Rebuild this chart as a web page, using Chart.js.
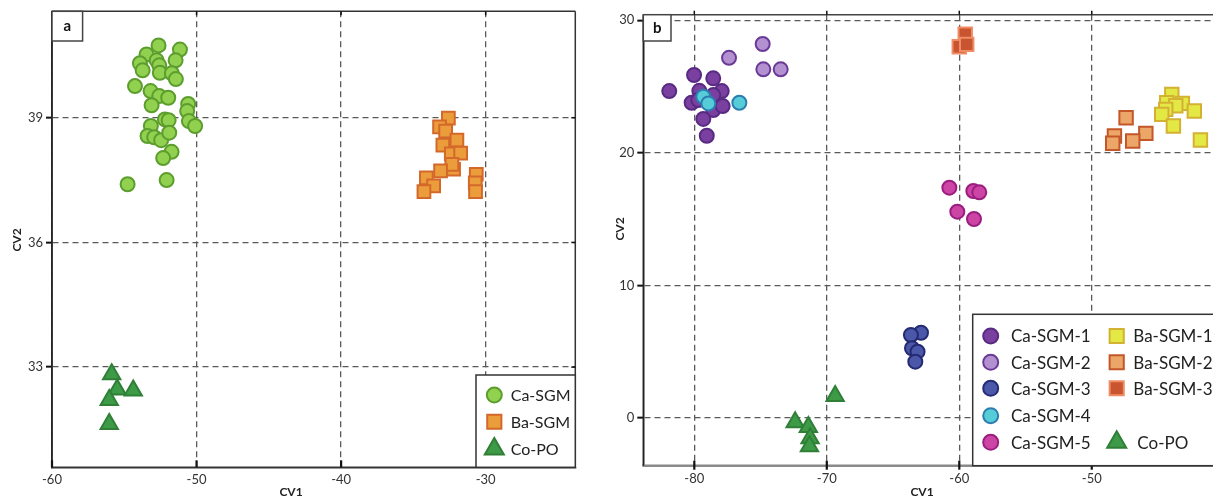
<!DOCTYPE html>
<html>
<head>
<meta charset="utf-8">
<title>CV1 / CV2 discriminant plots</title>
<script src="https://cdn.jsdelivr.net/npm/chart.js@4.4.1/dist/chart.umd.min.js"></script>
<style>
  html, body { margin: 0; padding: 0; background: #fff; }
  canvas { position: absolute; top: 0; }
  #chart-a { left: 0; }
  #chart-b { left: 600px; }
</style>
</head>
<body>
<canvas id="chart-a" width="590" height="498"></canvas>
<canvas id="chart-b" width="613" height="498"></canvas>
<script>
// ---- panel a data: [CV1, CV2] ----
const caSgm = [
  [-52.63, 40.74], [-51.15, 40.64], [-53.46, 40.52], [-53.92, 40.31], [-52.76, 40.38],
  [-51.45, 40.38], [-52.58, 40.26], [-53.73, 40.14], [-52.54, 40.08], [-51.71, 40.07],
  [-51.43, 39.93], [-54.26, 39.76], [-53.18, 39.64], [-52.58, 39.52], [-51.96, 39.48],
  [-53.11, 39.30], [-50.58, 39.33], [-50.65, 39.16], [-52.19, 38.96], [-51.93, 38.94],
  [-50.53, 38.92], [-50.10, 38.80], [-53.16, 38.80], [-53.39, 38.56], [-52.93, 38.53],
  [-52.45, 38.46], [-51.89, 38.64], [-51.73, 38.18], [-52.31, 38.03], [-52.07, 37.50],
  [-54.77, 37.40]
];
const baSgm = [
  [-32.58, 38.99], [-33.19, 38.78], [-32.77, 38.68], [-31.99, 38.46], [-32.96, 38.34],
  [-32.38, 38.13], [-31.73, 38.15], [-32.22, 37.76], [-32.34, 37.88], [-33.12, 37.72],
  [-34.10, 37.55], [-33.60, 37.36], [-34.27, 37.22], [-30.65, 37.64], [-30.72, 37.43],
  [-30.70, 37.22]
];
const coPoA = [[-55.87, 32.83], [-55.49, 32.46], [-54.38, 32.44], [-56.04, 32.21], [-56.04, 31.63]];

const xTicksA = [-60, -50, -40, -30];
const yTicksA = [33, 36, 39];

// ---- panel b data ----
const caSgm1 = [
  [-81.89, 24.66], [-80.02, 25.87], [-78.57, 25.62], [-79.62, 24.68], [-77.93, 24.66],
  [-78.57, 24.36], [-80.20, 23.78], [-79.70, 23.98], [-78.57, 23.23], [-77.86, 23.53],
  [-79.32, 22.56], [-79.06, 21.29]
];
const caSgm2 = [[-74.84, 28.21], [-77.38, 27.17], [-74.79, 26.30], [-73.48, 26.30]];
const caSgm3 = [[-62.89, 6.43], [-63.65, 6.26], [-63.57, 5.26], [-63.15, 5.00], [-63.32, 4.25]];
const caSgm4 = [[-79.32, 24.23], [-78.94, 23.73], [-76.60, 23.78]];
const caSgm5 = [[-60.75, 17.37], [-58.94, 17.12], [-58.49, 17.02], [-60.15, 15.56], [-58.89, 15.01]];
const baSgm1 = [
  [-43.96, 24.41], [-44.34, 23.78], [-43.16, 23.73], [-43.66, 23.55], [-44.42, 23.28],
  [-44.72, 22.90], [-42.26, 23.15], [-43.84, 22.02], [-41.80, 20.97]
];
const baSgm2 = [[-47.41, 22.65], [-48.29, 21.27], [-45.92, 21.47], [-46.91, 20.89], [-48.42, 20.72]];
const baSgm3 = [[-59.55, 28.94], [-60.00, 28.00], [-59.44, 28.18]];
const coPoB = [[-69.37, 1.66], [-72.39, -0.33], [-71.39, -0.68], [-71.26, -1.53], [-71.31, -2.13]];

const xTicksB = [-80, -70, -60, -50];
const yTicksB = [0, 10, 20, 30];

const FONT = 'Lato, "Liberation Sans", sans-serif';

function series(label, pts, fill, stroke, shape, radius) {
  return {
    label,
    data: pts.map(p => ({ x: p[0], y: p[1] })),
    pointStyle: shape,
    pointRadius: radius,
    pointHoverRadius: radius,
    pointBackgroundColor: fill,
    pointBorderColor: stroke,
    pointBorderWidth: 2
  };
}

function line(ctx, x1, y1, x2, y2) {
  ctx.beginPath();
  ctx.moveTo(x1, y1);
  ctx.lineTo(x2, y2);
  ctx.stroke();
}

function marker(ctx, ds, x, y, radius) {
  ctx.fillStyle = ds.pointBackgroundColor;
  ctx.strokeStyle = ds.pointBorderColor;
  ctx.lineWidth = 2;
  if (Chart.helpers && Chart.helpers.drawPoint) {
    Chart.helpers.drawPoint(ctx, { pointStyle: ds.pointStyle, radius, rotation: 0, borderWidth: 2 }, x, y);
  } else {
    ctx.beginPath();
    ctx.arc(x, y, radius, 0, Math.PI * 2);
    ctx.fill();
    ctx.stroke();
  }
}

// frame, inner tick marks, panel letter, axis titles and legend
const panelDecor = {
  id: 'panelDecor',
  afterDraw(chart, args, o) {
    const ctx = chart.ctx;
    const a = chart.chartArea;
    const xs = chart.scales.x, ys = chart.scales.y;
    ctx.save();

    // frame
    ctx.lineWidth = 1.5;
    ctx.strokeStyle = o.topColor;
    line(ctx, a.left, a.top, a.right, a.top);
    if (o.rightFrame) line(ctx, a.right, a.top, a.right, a.bottom);
    ctx.strokeStyle = o.bottomColor;
    ctx.lineWidth = o.bottomWidth;
    line(ctx, a.left - 1, a.bottom, a.right, a.bottom);
    ctx.strokeStyle = '#222';
    ctx.lineWidth = 1.5;
    line(ctx, a.left, a.top, a.left, a.bottom);

    // tick marks
    ctx.strokeStyle = '#111';
    xs.ticks.forEach(t => {
      const px = xs.getPixelForValue(t.value);
      ctx.lineWidth = 2.2;
      line(ctx, px, a.bottom + o.xTickOut, px, a.bottom - o.xTickIn);
      ctx.lineWidth = 1.5;
      line(ctx, px, a.top - o.topTickOut, px, a.top + o.topTickIn);
    });
    if (o.rightFrame) {
      ys.ticks.forEach(t => {
        const py = ys.getPixelForValue(t.value);
        ctx.lineWidth = 1.5;
        line(ctx, a.right - 4, py, a.right, py);
      });
    }

    // panel letter
    const lb = o.letterBox;
    ctx.fillStyle = '#fff';
    ctx.fillRect(a.left, a.top, lb.w, lb.h);
    ctx.strokeStyle = '#444';
    ctx.lineWidth = 1.5;
    ctx.strokeRect(a.left, a.top, lb.w, lb.h);
    ctx.fillStyle = '#111';
    ctx.font = 'bold 15px ' + FONT;
    ctx.textAlign = 'center';
    ctx.textBaseline = 'middle';
    ctx.fillText(o.letter, a.left + lb.w / 2, a.top + lb.h / 2);

    // axis titles
    ctx.font = 'bold 12px ' + FONT;
    ctx.fillStyle = '#222';
    ctx.fillText('CV1', o.xTitle[0], o.xTitle[1]);
    ctx.save();
    ctx.translate(o.yTitle[0], o.yTitle[1]);
    ctx.rotate(-Math.PI / 2);
    ctx.fillText('CV2', 0, 0);
    ctx.restore();

    // legend
    const L = o.legend;
    ctx.fillStyle = '#fff';
    ctx.fillRect(L.box[0], L.box[1], L.box[2], L.box[3]);
    ctx.strokeStyle = '#333';
    ctx.lineWidth = 1.5;
    ctx.strokeRect(L.box[0], L.box[1], L.box[2], L.box[3]);
    ctx.textAlign = 'left';
    ctx.textBaseline = 'middle';
    L.items.forEach(it => {
      const ds = chart.data.datasets[it.ds];
      const r = ds.pointStyle === 'triangle' ? L.triR : ds.pointStyle === 'rect' ? L.rectR : L.circR;
      marker(ctx, ds, it.mx, it.y, r);
      ctx.fillStyle = '#222';
      ctx.font = L.font + 'px ' + FONT;
      ctx.fillText(ds.label, it.tx, it.y + 1);
    });

    ctx.restore();
  }
};

function scaleOpts(min, max, ticks, fit) {
  return {
    type: 'linear',
    min, max,
    afterBuildTicks: s => { s.ticks = ticks.map(v => ({ value: v })); },
    afterFit: fit,
    grid: {
      color: '#5a5a5a',
      lineWidth: 1.3,
      borderDash: [6, 4],
      drawTicks: false
    },
    border: { display: true, color: '#333', width: 1.5, dash: [6, 4] },
    ticks: {
      autoSkip: false,
      maxRotation: 0,
      color: '#333',
      font: { family: FONT, size: 13 },
      padding: 5
    }
  };
}

function yScaleOpts(min, max, ticks, width) {
  const s = scaleOpts(min, max, ticks, sc => { sc.width = width; });
  s.grid.drawTicks = true;
  s.grid.tickLength = 6;
  s.grid.tickColor = '#111';
  s.grid.tickWidth = 2;
  s.grid.tickBorderDash = [];
  s.ticks.padding = 3;
  return s;
}

const baseOptions = {
  responsive: false,
  animation: false,
  events: [],
  plugins: { legend: { display: false }, tooltip: { enabled: false } }
};

// ---- panel a ----
new Chart(document.getElementById('chart-a'), {
  type: 'scatter',
  data: {
    datasets: [
      series('Ca-SGM', caSgm, '#92d050', '#5c9e2e', 'circle', 7),
      series('Ba-SGM', baSgm, '#eb9d3c', '#d4682b', 'rect', 9),
      series('Co-PO', coPoA, '#3d9a47', '#2f7f37', 'triangle', 10)
    ]
  },
  options: Object.assign({}, baseOptions, {
    layout: { autoPadding: false, padding: { top: 11.3, right: 14.7, left: 0, bottom: 0 } },
    scales: {
      x: scaleOpts(-60, -23.8, xTicksA, s => { s.height = 30.7; }),
      y: yScaleOpts(30.59, 41.56, yTicksA, 52)
    },
    plugins: Object.assign({}, baseOptions.plugins, {
      panelDecor: {
        letter: 'a',
        letterBox: { w: 30.6, h: 29.7 },
        topColor: '#333', bottomColor: '#333', bottomWidth: 1.5, rightFrame: true,
        xTickOut: 0, xTickIn: 7, topTickOut: 0, topTickIn: 4,
        xTitle: [291, 492], yTitle: [17, 240],
        legend: {
          box: [476, 375, 99.3, 92.3],
          font: 16, circR: 7.5, rectR: 10, triR: 11,
          items: [
            { ds: 0, mx: 494.3, tx: 510.7, y: 395 },
            { ds: 1, mx: 494.3, tx: 510.7, y: 421.7 },
            { ds: 2, mx: 494.3, tx: 510.7, y: 449 }
          ]
        }
      }
    })
  }),
  plugins: [panelDecor]
});

// ---- panel b ----
new Chart(document.getElementById('chart-b'), {
  type: 'scatter',
  data: {
    datasets: [
      series('Ca-SGM-1', caSgm1, '#7a40a0', '#592a83', 'circle', 7),
      series('Ca-SGM-2', caSgm2, '#b391d0', '#6a3a98', 'circle', 7),
      series('Ca-SGM-3', caSgm3, '#4b57a8', '#252b72', 'circle', 7),
      series('Ca-SGM-4', caSgm4, '#56ccd8', '#2c7db0', 'circle', 7),
      series('Ca-SGM-5', caSgm5, '#cc45a4', '#9b1d7f', 'circle', 7),
      series('Ba-SGM-1', baSgm1, '#e4e845', '#d3b133', 'rect', 9.5),
      series('Ba-SGM-2', baSgm2, '#eba668', '#c4572a', 'rect', 9.5),
      series('Ba-SGM-3', baSgm3, '#c95530', '#f08c66', 'rect', 9.5),
      series('Co-PO', coPoB, '#3d9a47', '#2f7f37', 'triangle', 10)
    ].map((d, i) => Object.assign(d, { order: -i }))
  },
  options: Object.assign({}, baseOptions, {
    layout: { autoPadding: false, padding: { top: 14.7, right: 0, left: 0, bottom: 0 } },
    scales: {
      x: scaleOpts(-83.85, -40.85, xTicksB, s => { s.height = 32.3; }),
      y: yScaleOpts(-3.6, 30.42, yTicksB, 43.3)
    },
    plugins: Object.assign({}, baseOptions.plugins, {
      panelDecor: {
        letter: 'b',
        letterBox: { w: 27.7, h: 26.3 },
        topColor: '#444', bottomColor: '#888', bottomWidth: 2.2, rightFrame: false,
        xTickOut: 4, xTickIn: 5, topTickOut: 4, topTickIn: 0,
        xTitle: [322, 492], yTitle: [20, 229],
        legend: {
          box: [372.7, 314.3, 250, 151.4],
          font: 17, circR: 7.5, rectR: 10, triR: 11,
          items: [
            { ds: 0, mx: 390.7, tx: 411, y: 336 },
            { ds: 1, mx: 390.7, tx: 411, y: 362.3 },
            { ds: 2, mx: 390.7, tx: 411, y: 388.3 },
            { ds: 3, mx: 390.7, tx: 411, y: 415.7 },
            { ds: 4, mx: 390.7, tx: 411, y: 442.3 },
            { ds: 5, mx: 516.7, tx: 533.3, y: 336 },
            { ds: 6, mx: 516.7, tx: 533.3, y: 362.3 },
            { ds: 7, mx: 516.7, tx: 533.3, y: 388.3 },
            { ds: 8, mx: 516.7, tx: 537.3, y: 442.3 }
          ]
        }
      }
    })
  }),
  plugins: [panelDecor]
});
</script>
</body>
</html>
